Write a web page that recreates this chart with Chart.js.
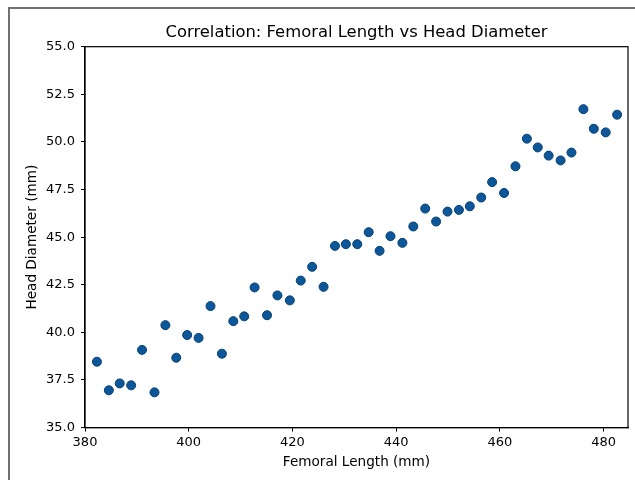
<!DOCTYPE html>
<html lang="en">
<head>
  <meta charset="UTF-8">
  <title>Correlation: Femoral Length vs Head Diameter</title>
  <script src="https://cdn.jsdelivr.net/npm/chart.js"></script>
  <style>
    * { box-sizing: border-box; margin: 0; padding: 0; }
    body { width: 635px; height: 480px; background: #fff; overflow: hidden; position: relative; }
    .frame { position: absolute; left: 8px; top: 7px; width: 640px; height: 480px; border-left: 2px solid #707070; border-top: 2px solid #707070; }
    .wrap { position: absolute; left: 0; top: 0; width: 635px; height: 480px; }
  </style>
</head>
<body>
  <div class="frame"></div>
  <div class="wrap"><canvas id="scatter" width="635" height="480"></canvas></div>
  <script>
    // femoral length (mm)
    var femoralLength = [
      382.3, 384.6, 386.7, 388.9, 391.0, 393.4, 395.5, 397.6, 399.7, 401.9,
      404.2, 406.4, 408.6, 410.7, 412.7, 415.1, 417.1, 419.5, 421.6, 423.8,
      426.0, 428.2, 430.3, 432.5, 434.7, 436.8, 438.9, 441.2, 443.3, 445.6,
      447.7, 449.9, 452.1, 454.2, 456.4, 458.5, 460.8, 463.0, 465.2, 467.3,
      469.4, 471.7, 473.8, 476.1, 478.1, 480.4, 482.6
    ];
    // head diameter (mm)
    var headDiameter = [
      38.46, 36.96, 37.32, 37.22, 39.08, 36.85, 40.38, 38.67, 39.86, 39.71,
      41.38, 38.88, 40.59, 40.84, 42.36, 40.90, 41.94, 41.68, 42.72, 43.44,
      42.39, 44.54, 44.63, 44.63, 45.26, 44.28, 45.05, 44.70, 45.56, 46.50,
      45.82, 46.34, 46.43, 46.62, 47.08, 47.89, 47.32, 48.72, 50.17, 49.71,
      49.28, 49.03, 49.44, 51.72, 50.69, 50.50, 51.43
    ];
    var xTicks = [380, 400, 420, 440, 460, 480];
    var yTicks = [35.0, 37.5, 40.0, 42.5, 45.0, 47.5, 50.0, 52.5, 55.0];

    var points = femoralLength.map(function(x, i) { return { x: x, y: headDiameter[i] }; });

    var fontFam = "'DejaVu Sans', sans-serif";

    // box around the plot area (top + right spines)
    var frameBox = {
      id: 'frameBox',
      afterDraw: function(chart) {
        var a = chart.chartArea, c = chart.ctx;
        c.save();
        c.strokeStyle = '#000';
        c.lineWidth = 1.2;
        c.strokeRect(a.left, a.top, a.right - a.left, a.bottom - a.top);
        c.restore();
      }
    };

    new Chart(document.getElementById('scatter'), {
      type: 'scatter',
      data: {
        datasets: [{
          data: points,
          backgroundColor: '#0b5799',
          borderColor: '#073f72',
          borderWidth: 1,
          pointRadius: 4.5,
          pointHoverRadius: 4.5
        }]
      },
      options: {
        responsive: false,
        animation: false,
        layout: { padding: { left: 0, right: 7, top: 0, bottom: 0 } },
        plugins: {
          legend: { display: false },
          tooltip: { enabled: false },
          title: {
            display: true,
            fullSize: false,
            text: 'Correlation: Femoral Length vs Head Diameter',
            color: '#000',
            font: { family: fontFam, size: 16.4, weight: 'normal' },
            padding: { top: 22.5, bottom: 4.5 }
          }
        },
        scales: {
          x: {
            type: 'linear',
            min: 380,
            max: 484.7,
            afterFit: function(s) { s.height = 52.4; },
            afterBuildTicks: function(s) { s.ticks = xTicks.map(function(v) { return { value: v }; }); },
            ticks: { color: '#000', padding: 3, maxRotation: 0, font: { family: fontFam, size: 13 } },
            grid: { drawOnChartArea: false, drawTicks: true, tickLength: 4, color: '#000' },
            border: { display: true, color: '#000', width: 1.2 },
            title: { display: true, text: 'Femoral Length (mm)', color: '#000', font: { family: fontFam, size: 13.6 }, padding: { top: 0, bottom: 9.5 } }
          },
          y: {
            type: 'linear',
            min: 35,
            max: 55,
            afterFit: function(s) { s.width = 85; },
            afterBuildTicks: function(s) { s.ticks = yTicks.map(function(v) { return { value: v }; }); },
            ticks: { color: '#000', padding: 6, font: { family: fontFam, size: 13 }, callback: function(v) { return Number(v).toFixed(1); } },
            grid: { drawOnChartArea: false, drawTicks: true, tickLength: 4, color: '#000' },
            border: { display: true, color: '#000', width: 1.2 },
            title: { display: true, text: 'Head Diameter (mm)', color: '#000', font: { family: fontFam, size: 13.6 }, padding: { top: 24, bottom: 0 } }
          }
        }
      },
      plugins: [frameBox]
    });
  </script>
</body>
</html>
